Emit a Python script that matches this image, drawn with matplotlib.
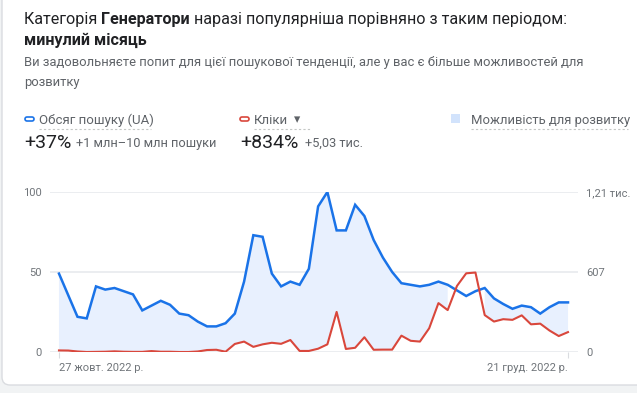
import matplotlib
matplotlib.use("Agg")
import matplotlib.pyplot as plt
from matplotlib.patches import FancyBboxPatch, Rectangle
from matplotlib.lines import Line2D
from matplotlib.transforms import Affine2D
import numpy as np

plt.rcParams['font.family'] = ['Roboto', 'DejaVu Sans']

W, H = 637, 393

# data (daily, 27 Oct - 21 Dec 2022)
date_labels = ["27 жовт. 2022 р.", "21 груд. 2022 р."]
search_volume = [49, 35.5, 22, 21, 41, 39, 40, 38, 36, 26,
                 29, 32, 29.5, 24, 23, 19, 16, 16, 18, 24,
                 44, 73, 72, 49, 41, 44, 42, 52, 91, 100,
                 76, 76, 92, 85, 70, 59, 50, 43, 42, 41,
                 42, 44, 42, 38.5, 35, 38, 40, 33.5, 30, 27,
                 29, 28, 24, 28, 31, 31]
clicks = [12, 11, 4, 0, 1, 2, 5, 2, 1, 1,
          7, 2, 2, 0, 0, 4, 15, 17, 2, 61,
          79, 39, 58, 70, 62, 91, 8, 8, 25, 58,
          304, 23, 32, 112, 17, 18, 18, 124, 85, 79,
          180, 371, 318, 501, 597, 603, 280, 231, 249, 244,
          278, 210, 215, 163, 121, 151]
left_ticks = [0, 50, 100]
right_ticks = [0, 607, 1214]
right_labels = ["0", "607", "1,21 тис."]

BLUE = '#1a73e8'
RED = '#d9473c'
FILL = '#e8f0fe'
GREY = '#5f6368'
TICK = '#70757a'

fig = plt.figure(figsize=(W / 100, H / 100), dpi=100, facecolor='#f1f3f4')
# pixel coords with origin top-left
pxt = Affine2D().scale(1 / 100, -1 / 100).translate(0, H / 100) + fig.dpi_scale_trans

card = FancyBboxPatch((2, -20), 700, 405, boxstyle="round,pad=0,rounding_size=8",
                      facecolor='white', edgecolor='#dadce0', lw=1, transform=pxt, zorder=-10)
fig.add_artist(card)


def put(x, y, s, **kw):
    return fig.text(x, y, s, transform=pxt, va='baseline', **kw)


def put_runs(x, y, runs, size, color):
    r = fig.canvas.get_renderer()
    for s, weight in runs:
        t = put(x, y, s, fontsize=size, color=color, fontweight=weight)
        x += t.get_window_extent(renderer=r).width


def underline(x0, x1, y):
    fig.add_artist(Line2D([x0, x1], [y, y], transform=pxt, color='#c4c7c5',
                          lw=0.8, linestyle=(0, (2, 2))))


# header
put_runs(24, 24, [("Категорія ", 'normal'), ("Генератори", 'bold'),
                  (" наразі популярніша порівняно з таким періодом:", 'normal')], 11.6, '#202124')
put(24, 45, "минулий місяць", fontsize=11.6, fontweight='bold', color='#202124')
put(24, 66, "Ви задовольняєте попит для цієї пошукової тенденції, але у вас є більше можливостей для",
    fontsize=9.35, color=GREY)
put(24, 86, "розвитку", fontsize=9.35, color=GREY)

# legend row
fig.add_artist(FancyBboxPatch((25, 117), 9, 4, boxstyle="round,pad=0,rounding_size=2",
                              facecolor='white', edgecolor=BLUE, lw=1.2, transform=pxt))
put(39, 124, "Обсяг пошуку (UA)", fontsize=9.5, color=GREY)
underline(39, 151, 129)
fig.add_artist(FancyBboxPatch((240, 117), 9, 4, boxstyle="round,pad=0,rounding_size=2",
                              facecolor='white', edgecolor=RED, lw=1.2, transform=pxt))
put(254, 124, "Кліки", fontsize=9.5, color=GREY)
put(294, 123, "▾", fontsize=9, color=GREY)
underline(254, 310, 129)
fig.add_artist(Rectangle((451, 114), 9, 9, facecolor='#d2e3fc', edgecolor='none', transform=pxt))
put(471, 124, "Можливість для розвитку", fontsize=9.4, color=GREY)
underline(471, 628, 129)

put(24, 148, "+37%", fontsize=14, color='#202124')
put(76, 147, "+1 млн–10 млн пошуки", fontsize=9.2, color=GREY)
put(240, 148, "+834%", fontsize=14, color='#202124')
put(305, 147, "+5,03 тис.", fontsize=9.2, color=GREY)

# chart
x = np.arange(len(search_volume))
sv = np.array(search_volume, dtype=float)
cl = np.array(clicks, dtype=float)
cl_pct = cl / right_ticks[-1] * 100

ax = fig.add_axes([50 / W, (H - 352) / H, 528 / W, 160 / H])
ax.set_facecolor('none')
ax.fill_between(x, sv, cl_pct, where=sv >= cl_pct, color=FILL, lw=0, zorder=1)
ax.plot(x, sv, color=BLUE, lw=1.8, zorder=3, solid_joinstyle='miter')
ax.set_xlim(-0.97, 56.08)
ax.set_ylim(0, 100)
ax.set_yticks(left_ticks)
ax.grid(axis='y', color='#e8eaed', lw=1.2)
ax.tick_params(axis='y', length=0, pad=6, labelsize=8, labelcolor=TICK)
ax.set_xticks([0, len(x) - 1])
ax.set_xticklabels(date_labels)
ax.tick_params(axis='x', length=4, color='#dadce0', pad=4, labelsize=8, labelcolor=TICK)
lbls = ax.get_xticklabels()
lbls[0].set_ha('left')
lbls[1].set_ha('right')
for s in ax.spines.values():
    s.set_visible(False)
ax.set_axisbelow(True)

ax2 = ax.twinx()
ax2.plot(x, cl, color=RED, lw=1.5, zorder=2)
ax2.set_ylim(0, right_ticks[-1])
ax2.set_yticks(right_ticks)
ax2.set_yticklabels(right_labels)
ax2.tick_params(axis='y', length=0, pad=6, labelsize=8, labelcolor=TICK)
for s in ax2.spines.values():
    s.set_visible(False)

fig.savefig("out.png", dpi=100, facecolor=fig.get_facecolor())
